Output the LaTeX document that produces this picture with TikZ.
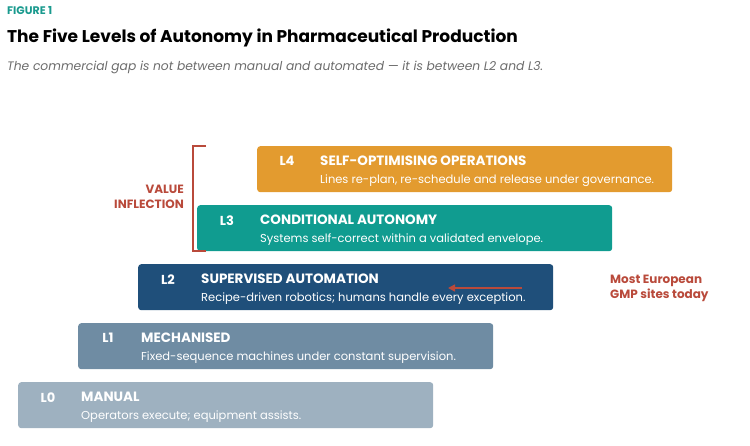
\documentclass[tikz,border=0pt]{standalone}
\usepackage{fontspec}
\setmainfont{Poppins}
\usetikzlibrary{positioning,arrows.meta}
\definecolor{cFour}{HTML}{E39B2F}
\definecolor{cThree}{HTML}{109C90}
\definecolor{cTwo}{HTML}{1F4F7A}
\definecolor{cOne}{HTML}{6F8CA3}
\definecolor{cZero}{HTML}{9EB1C0}
\definecolor{accent}{HTML}{B94A3B}
\definecolor{figteal}{HTML}{1A9A8E}
\tikzset{
  level/.style={rounded corners=3pt, minimum width=415pt, minimum height=46pt, inner sep=0pt},
  lvcode/.style={text=white, font=\fontsize{13}{15}\selectfont\bfseries, anchor=center},
  lvtitle/.style={text=white, font=\fontsize{13.5}{15}\selectfont\bfseries, anchor=west, inner sep=0pt},
  lvdesc/.style={text=white, font=\fontsize{11.5}{13}\selectfont, anchor=west, inner sep=0pt},
  note/.style={text=accent, font=\fontsize{12}{15}\selectfont\bfseries, inner sep=0pt}
}
\begin{document}
\begin{tikzpicture}[x=1pt,y=-1pt]
  \useasboundingbox (0,0) rectangle (750,446);

  \node[anchor=west, text=figteal, font=\fontsize{11}{13}\selectfont\bfseries, inner sep=0pt] (fig) at (7,11) {FIGURE 1};
  \node[anchor=west, font=\fontsize{17}{20}\selectfont\bfseries, inner sep=0pt] (title) at (7,38) {The Five Levels of Autonomy in Pharmaceutical Production};
  \node[anchor=west, text=gray!85!black, font=\fontsize{12.3}{15}\selectfont\itshape, inner sep=0pt] (sub) at (7,67) {The commercial gap is not between manual and automated — it is between L2 and L3.};

  % levels, bottom to top
  \node[level, fill=cZero, anchor=north west] (L0) at (18,382) {};
  \node[level, fill=cOne, anchor=north west] (L1) at (78,323) {};
  \node[level, fill=cTwo, anchor=north west] (L2) at (138,264) {};
  \node[level, fill=cThree, anchor=north west] (L3) at (197,205) {};
  \node[level, fill=cFour, anchor=north west] (L4) at (257,146) {};

  \foreach \lv/\nm/\ds in {L0/MANUAL/{Operators execute; equipment assists.},
      L1/MECHANISED/{Fixed-sequence machines under constant supervision.},
      L2/SUPERVISED AUTOMATION/{Recipe-driven robotics; humans handle every exception.},
      L3/CONDITIONAL AUTONOMY/{Systems self-correct within a validated envelope.},
      L4/SELF-OPTIMISING OPERATIONS/{Lines re-plan, re-schedule and release under governance.}}{
    \node[lvcode] (\lv c) at ([xshift=30pt,yshift=8pt]\lv.west) {\lv};
    \node[lvtitle] (\lv n) at ([xshift=63pt,yshift=8pt]\lv.west) {\nm};
    \node[lvdesc] (\lv d) at ([xshift=63pt,yshift=-11pt]\lv.west) {\ds};
  }

  % value inflection bracket
  \coordinate (bT) at (206,146);
  \coordinate (bB) at (206,251);
  \draw[accent, line width=1.5pt] (bT) -| (193,251) -- (bB);
  \node[note, align=right, anchor=east] (vi) at (184,197) {VALUE\\INFLECTION};

  % most sites marker
  \node[note, align=left, anchor=west] (most) at (610,288) {Most European\\GMP sites today};
  \coordinate (aS) at (522,288);
  \coordinate (aE) at (448,288);
  \draw[accent, line width=1.5pt, -{Triangle[length=7pt,width=7pt]}] (aS) -- (aE);
\end{tikzpicture}
\end{document}
